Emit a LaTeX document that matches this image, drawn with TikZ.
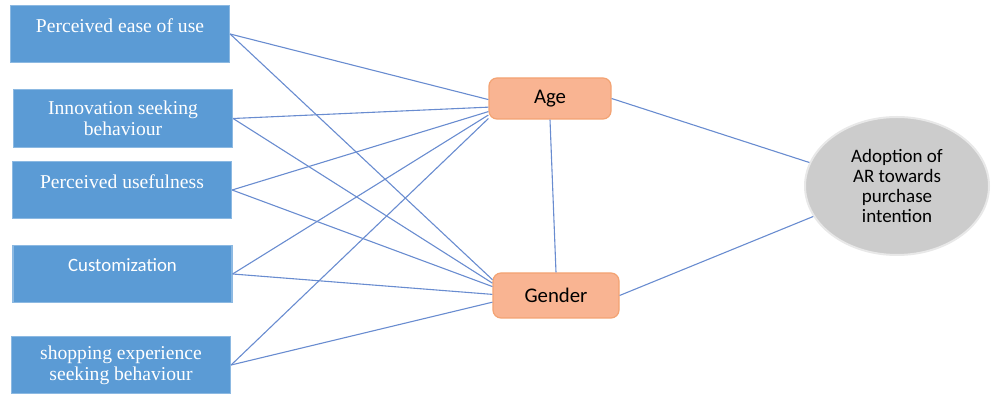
\documentclass[tikz,border=0pt]{standalone}
\usepackage{fontspec}
\setmainfont{Liberation Serif}
\newfontfamily\calibri{Carlito}
\usetikzlibrary{shapes.geometric, positioning}
\definecolor{BoxBlue}{RGB}{91, 155, 213}
\definecolor{LinkBlue}{RGB}{105, 140, 208}
\definecolor{Salmon}{RGB}{249, 180, 146}
\definecolor{SalmonEdge}{RGB}{240, 140, 80}
\definecolor{OvalGray}{RGB}{204, 204, 204}

\begin{document}
\begin{tikzpicture}[
        x=0.5pt, y=-0.5pt,
        factor/.style={rectangle, fill=BoxBlue, draw=BoxBlue!70!white, line width=0.6pt, minimum width=109.5pt, minimum height=28.8pt, text=white, align=center, font=\fontsize{9.8}{10.5}\selectfont},
        raised/.style={text depth=#1},
        moderator/.style={rectangle, rounded corners=4pt, fill=Salmon, draw=SalmonEdge!80, line width=0.6pt, font=\calibri\fontsize{10.4}{12}\selectfont},
        outcome/.style={ellipse, draw=OvalGray!45, line width=1pt, fill=OvalGray, minimum width=92pt, minimum height=69pt, inner sep=0pt, align=center, font=\calibri\fontsize{9.5}{9.9}\selectfont},
        link/.style={draw=LinkBlue, line width=0.55pt}
    ]
        \useasboundingbox (0,0) rectangle (991,394);

        % Factors
        \node[factor, raised=8pt] (ease) at (120, 34) {Perceived ease of use};
        \node[factor] (innov) at (123, 118.5) {Innovation seeking\\behaviour};
        \node[factor, raised=8pt] (useful) at (122, 190) {Perceived usefulness};
        \node[factor, raised=9.4pt, font=\calibri\fontsize{9.4}{11}\selectfont] (custom) at (122.5, 274) {Customization};
        \node[factor] (shop) at (121, 365) {shopping experience\\seeking behaviour};

        % Moderators
        \node[moderator, minimum width=61pt, minimum height=20.5pt] (age) at (550, 98.5) {Age};
        \node[moderator, minimum width=63pt, minimum height=22.5pt] (gender) at (556, 295.5) {Gender};

        % Outcome
        \node[outcome] (adopt) at (897, 186) {Adoption of\\AR towards\\purchase\\intention};

        % Links to Age
        \draw[link] (ease.east) -- (age.181);
        \draw[link] (innov.east) -- (age.188);
        \draw[link] (useful.east) -- (age.192);
        \draw[link] (custom.east) -- (age.195);
        \draw[link] (shop.east) -- (age.198);

        % Links to Gender
        \draw[link] (ease.east) -- (gender.166);
        \draw[link] (innov.east) -- (gender.169);
        \draw[link] (useful.east) -- (gender.172);
        \draw[link] (custom.east) -- (gender.179);
        \draw[link] (shop.east) -- (gender.186);

        % Age, Gender and outcome
        \draw[link] (age.south) -- (gender.north);
        \draw[link] (age.east) -- (adopt.165);
        \draw[link] (gender.east) -- (adopt.200);
    \end{tikzpicture}
\end{document}
